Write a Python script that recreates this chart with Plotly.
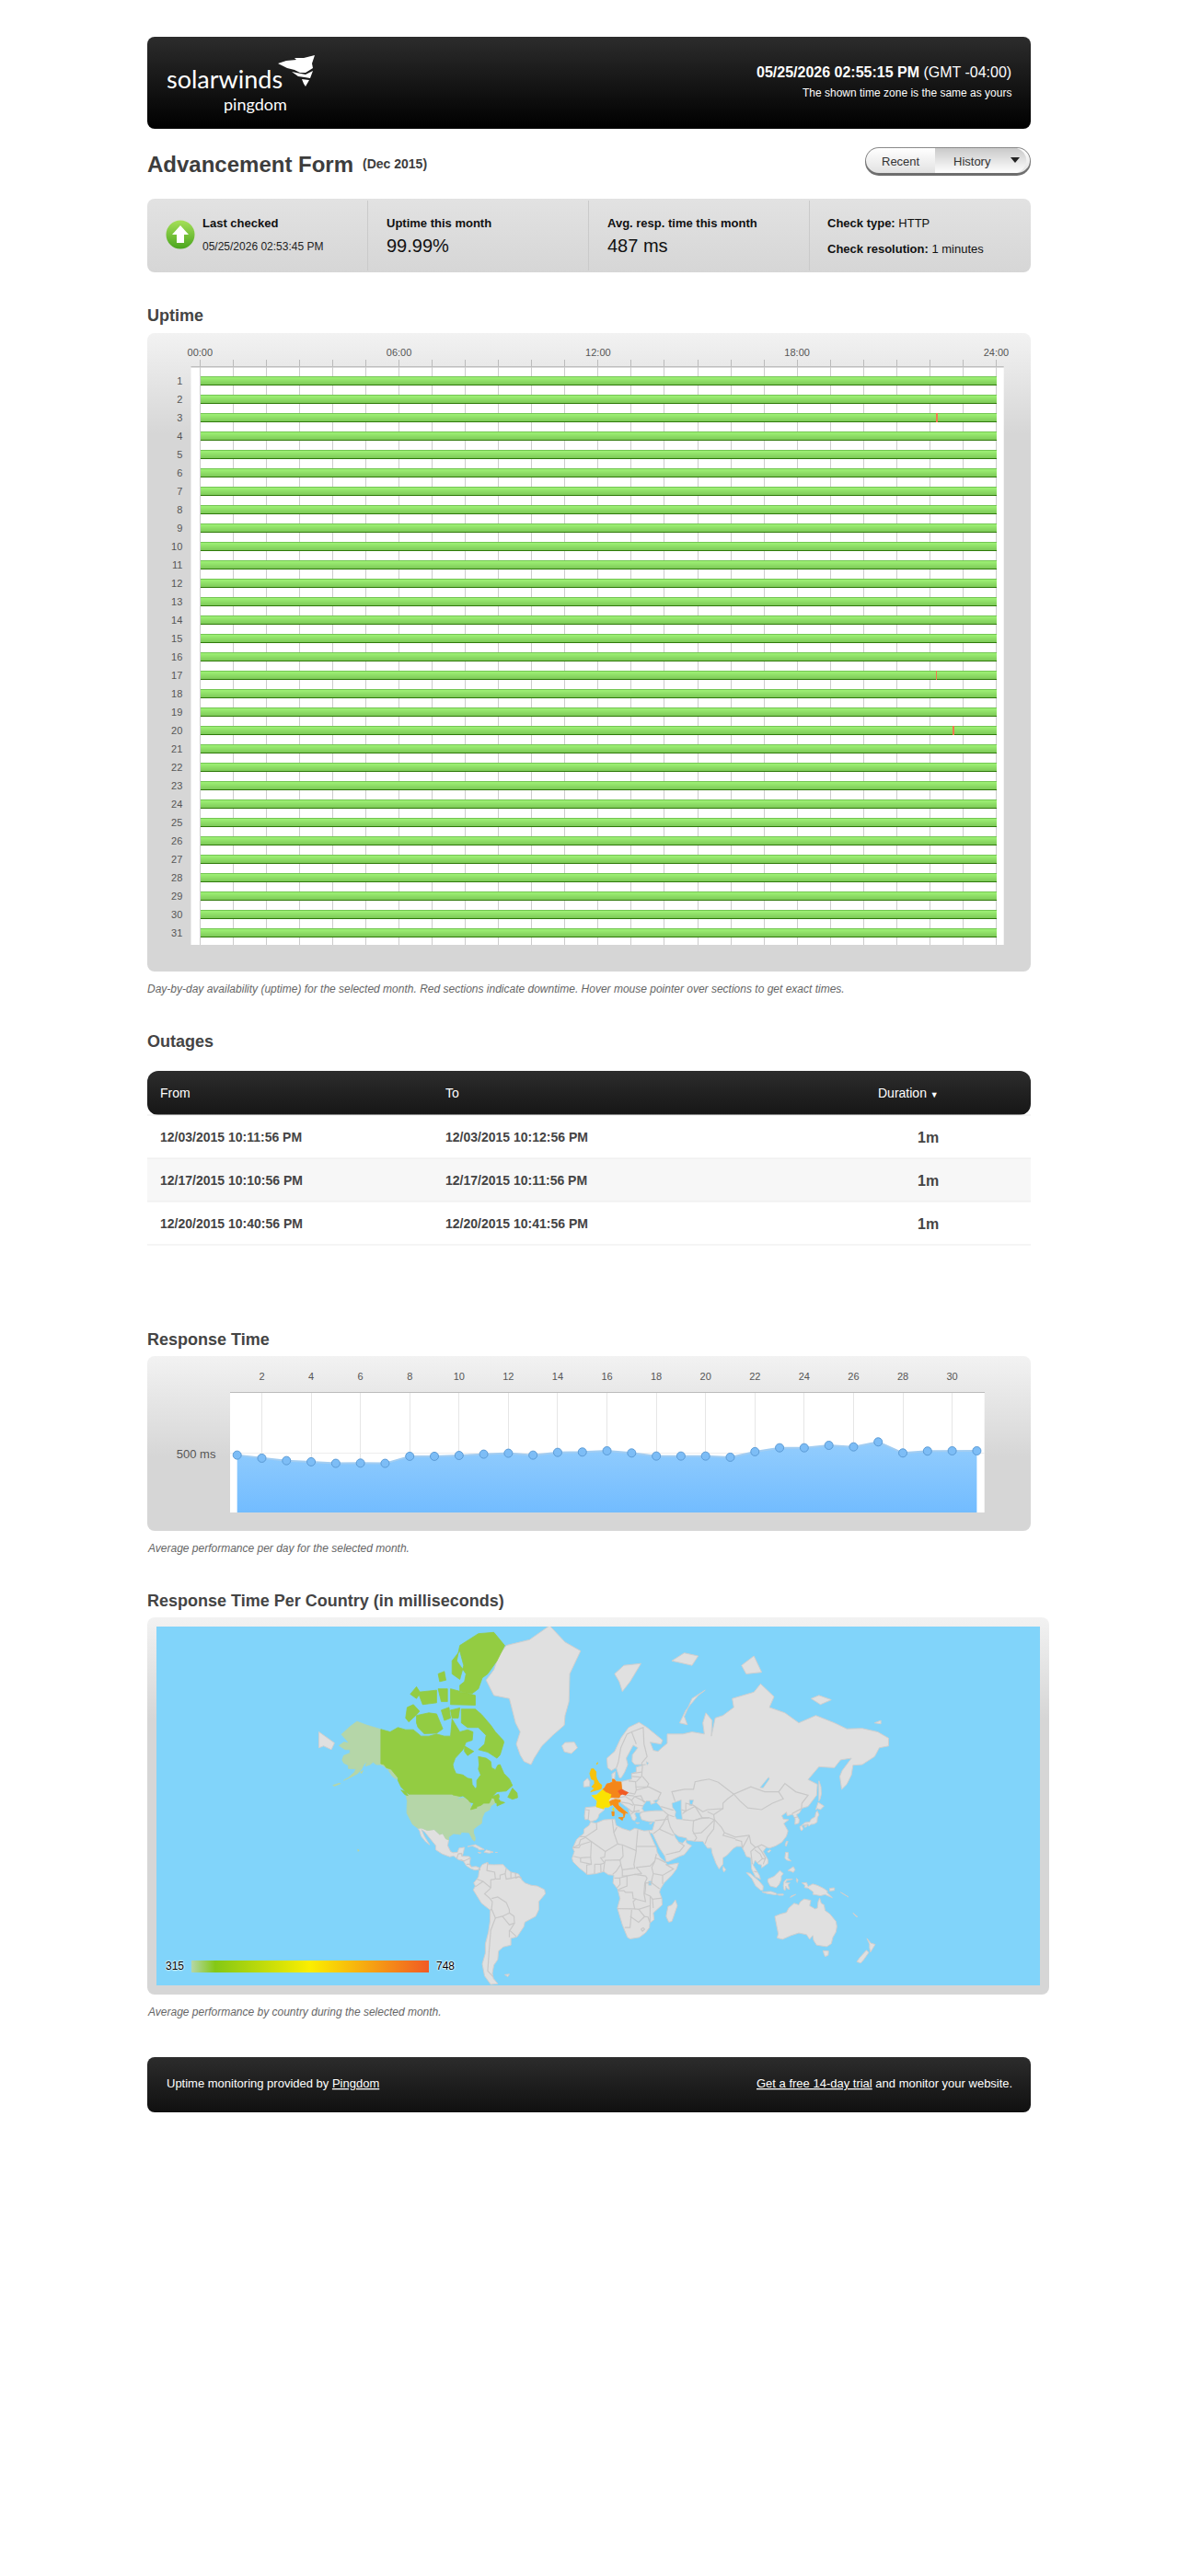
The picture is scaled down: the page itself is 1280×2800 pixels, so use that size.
import base64
import math
from datetime import datetime

import plotly.colors as pc
import plotly.graph_objects as go

# ---- data ----
outage_from = ["12/03/2015 10:11:56 PM", "12/17/2015 10:10:56 PM", "12/20/2015 10:40:56 PM"]
outage_to = ["12/03/2015 10:12:56 PM", "12/17/2015 10:11:56 PM", "12/20/2015 10:41:56 PM"]
outage_duration = ["1m", "1m", "1m"]

days = list(range(1, 32))
hour_ticks = list(range(0, 25))
hour_labels = {0: "00:00", 6: "06:00", 12: "12:00", 18: "18:00", 24: "24:00"}

resp_days = list(range(1, 32))
resp_ms = [487, 461, 440, 430, 417, 419, 417, 477, 477, 484, 495, 503, 487, 510, 513, 523,
           505, 479, 479, 479, 469, 516, 549, 549, 570, 557, 599, 505, 521, 523, 523]
resp_ticks = list(range(2, 31, 2))

legend_min = 315
legend_max = 748
legend_stops = [[0, "#b5d6a8"], [0.1, "#84c815"], [0.5, "#fbee00"], [1, "#f15a24"]]
country_ms = {"USA": 315, "CAN": 345, "FRA": 549, "GBR": 596, "ITA": 670, "DEU": 683, "NLD": 683, "BEL": 683,
              "CZE": 748}

# ---- map outlines, (lon, lat); the topojson of geo subplots can't be fetched offline ----
ALASKA = [(-141, 69.6), (-145, 70), (-150, 70.5), (-156.5, 71.3), (-161, 70.2), (-166.5, 68.4), (-163, 67),
          (-161.5, 66.3), (-165, 66.5), (-168, 65.6), (-164, 64.5), (-161, 64.5), (-161, 63.5), (-165, 62.8),
          (-166, 61.5), (-165, 60.5), (-162, 59.8), (-162, 58.7), (-158, 58.6), (-157, 58.8), (-158, 57.5),
          (-162, 55.5), (-165, 54.5), (-161, 55.5), (-156, 57), (-153.5, 58.5), (-152, 60), (-150, 61),
          (-151, 59.5), (-148, 60), (-146, 60.8), (-144, 60), (-141, 60), (-139, 59.5), (-137, 58.5), (-135, 59),
          (-136, 58), (-133.5, 56), (-131, 55), (-130, 55.5), (-132, 56.8), (-134.5, 58.5), (-137.5, 59),
          (-139, 60), (-141, 60.3)]
USA_MAIN = [(-124.7, 48.4), (-123, 49), (-95, 49), (-94.5, 48.7), (-89.5, 48), (-92, 46.7), (-88, 47.5),
            (-84.5, 46.5), (-83.5, 45.5), (-82.5, 43), (-83, 42), (-79, 42.8), (-79.2, 43.4), (-76.5, 44),
            (-74.5, 45), (-71, 45), (-69.3, 47.4), (-67.8, 47.1), (-67, 45.2), (-70, 43.7), (-70.7, 42),
            (-74, 40.7), (-75.5, 38), (-76, 35), (-78, 34), (-81, 32), (-81.2, 30), (-80, 26.8), (-80.4, 25.2),
            (-81.7, 26), (-82.8, 28), (-84, 30), (-89, 30.3), (-89.5, 29), (-94, 29.5), (-97.2, 27.5), (-97.2, 26),
            (-99, 26.5), (-101, 29.6), (-103, 29), (-106.5, 31.8), (-111, 31.3), (-114.7, 32.6), (-117.1, 32.5),
            (-120.5, 34.5), (-122.5, 37.5), (-124.2, 40.3), (-124.2, 43), (-124, 46)]
USA_SMALL = [[(-172, 52.6), (-168, 53.4), (-167, 53.3), (-171, 52.3)], [(-154.5, 57.5), (-152.5, 58), (-153.5, 57)],
             [(-156, 20.2), (-155, 19.7), (-155.7, 19)]]
CANADA_MAIN = [(-141, 69.6), (-135, 69), (-130, 70), (-125, 69.5), (-120, 69.5), (-115, 68), (-110, 68), (-105, 68.5),
               (-100, 68), (-96, 68), (-95, 71.8), (-92, 70), (-90, 69), (-85, 69.5), (-81.5, 69), (-82, 67),
               (-86, 66.5), (-88, 64.5), (-93, 62), (-94.5, 60), (-94, 58.8), (-92.5, 57), (-88, 56.5), (-85, 55.3),
               (-82.3, 55), (-82, 53), (-80, 51.3), (-79, 52), (-79, 54.5), (-76.5, 56.5), (-78, 58.5), (-77.5, 60),
               (-78, 62.5), (-73, 62), (-70, 61), (-69.5, 59), (-67, 58.3), (-65.5, 59.8), (-64, 60), (-61.5, 57),
               (-58, 55), (-56, 52.5), (-60, 50.3), (-66, 50), (-69, 48), (-65, 49), (-64.5, 48), (-65, 47), (-64, 46),
               (-61, 45.3), (-64, 44.5), (-66, 43.7), (-66, 45), (-67, 45.2), (-67.8, 47.1), (-69.3, 47.4), (-71, 45),
               (-74.5, 45), (-76.5, 44), (-79.2, 43.4), (-79, 42.8), (-83, 42), (-82.5, 43), (-81, 45), (-83.5, 45.5),
               (-84.5, 46.5), (-88, 48.3), (-89.5, 48), (-94.5, 48.7), (-95, 49), (-123, 49), (-125, 50), (-128, 52),
               (-130, 54.5), (-130, 55.5), (-132, 56.8), (-134.5, 58.5), (-137.5, 59), (-139, 60), (-141, 60.3)]
CANADA_ISLANDS = [
    [(-128, 50.7), (-125, 50), (-123.5, 48.4), (-125.5, 48.8)],
    [(-59, 47.7), (-56, 51.5), (-53, 49.5), (-52.7, 47.5), (-56, 46.8)],
    [(-61.5, 66.5), (-64, 63), (-66, 62), (-72, 63.8), (-78, 64.5), (-74, 66), (-73, 68.2), (-78, 70), (-85, 70),
     (-89, 71), (-89, 73.7), (-80, 73.7), (-76, 72.7), (-70, 70.5), (-67, 69), (-62, 67)],
    [(-117, 70), (-113, 68.6), (-105, 68.7), (-101, 69.7), (-105, 72.8), (-110, 73), (-118, 72.5), (-118, 71)],
    [(-125, 72), (-123, 71.2), (-118.5, 72.5), (-116, 73.3), (-120, 74.5), (-124, 74)],
    [(-90, 76.5), (-82, 76.3), (-78, 77), (-75.5, 78.5), (-72, 79), (-66, 80.5), (-61, 82), (-68, 83.1), (-78, 83),
     (-90, 82), (-92, 80.5), (-86, 79), (-87, 78), (-90, 77.5)],
    [(-96, 77), (-80, 76), (-80, 74.4), (-96, 74.5)],
    [(-95, 80.5), (-90, 81.5), (-87.5, 80), (-90, 78.3), (-95, 79)],
    [(-87, 65.5), (-81, 64), (-85, 62.8), (-87, 64)],
    [(-96, 73.5), (-90, 73.9), (-91, 72), (-95, 72)],
    [(-102, 73.5), (-97, 74), (-96, 72), (-100, 71.5)],
    [(-117, 76.5), (-105, 76.8), (-105, 74.8), (-114, 74.5)],
    [(-104, 77), (-98, 77), (-98, 75), (-102, 75)],
    [(-122, 76.2), (-118, 77.3), (-115.5, 76.4), (-118, 75.5)],
    [(-104, 79), (-100, 79.3), (-99, 78.2), (-103, 78)],
]
MEXICO_CA = [(-117.1, 32.5), (-114.7, 32.6), (-111, 31.3), (-106.5, 31.8), (-103, 29), (-101, 29.6), (-99, 26.5),
             (-97.2, 26), (-97.8, 22.5), (-96, 19), (-94.5, 18.2), (-91.5, 18.5), (-90.5, 21), (-87, 21.5),
             (-87.7, 18.5), (-88.5, 16), (-84, 15.9), (-83.2, 15), (-83.7, 11), (-82.5, 9.3), (-79.5, 9.6),
             (-77.3, 8.7), (-78.2, 7.5), (-80.3, 7.3), (-83, 8.3), (-85.8, 10), (-87.6, 13), (-91, 14), (-94, 16.2),
             (-96.5, 15.7), (-101.5, 17.5), (-105.5, 20), (-105.5, 22.5), (-109.3, 26.5), (-112.8, 30.5),
             (-114.8, 31.7), (-112.8, 27.8), (-109.5, 23), (-112, 24.7), (-115, 28), (-116, 31)]
GREENLAND = [(-73, 78.2), (-68, 76), (-58, 75.5), (-54, 71), (-51, 69), (-53.5, 66), (-51, 63), (-48.5, 61), (-44, 60),
             (-42, 62), (-37, 65.5), (-30, 68.2), (-22.5, 70.5), (-22, 72.5), (-19.5, 75), (-19, 79), (-12, 81.5),
             (-22, 82.3), (-32, 83.6), (-45, 82.5), (-60, 82), (-65, 81), (-68, 79.5)]
SOUTH_AMERICA = [(-77, 8.5), (-75.5, 10.8), (-72, 12.2), (-71.5, 10.8), (-68, 10.7), (-62, 10.8), (-60, 8.4), (-57, 6),
                 (-52, 4.7), (-50, 1), (-48, -1), (-44, -2.5), (-40, -3), (-35.3, -5.3), (-34.8, -8), (-39, -13),
                 (-39, -18), (-41, -22), (-48, -25.5), (-48.6, -28), (-53, -33.7), (-57, -34.5), (-57, -38), (-62, -39),
                 (-65, -41), (-65.5, -45), (-68, -47.5), (-69, -51), (-68.3, -53), (-65.5, -55), (-70, -55.3),
                 (-74, -52), (-75.5, -47), (-73.5, -42), (-73.5, -37.5), (-71.5, -31), (-70.5, -25), (-70.3, -18.3),
                 (-76, -14), (-81.3, -5.5), (-80, -3), (-81, -1), (-79, 1.5), (-78, 3), (-77.5, 7)]
AFRICA = [(-5.5, 35.8), (-2, 35.2), (3, 36.9), (10, 37.3), (11, 34), (15, 32.3), (20, 31), (23, 32.5), (29, 31),
          (32.3, 31.2), (32.5, 30), (34, 27), (35.5, 24), (37, 21), (37.5, 18.5), (39.5, 15.2), (43.2, 12), (44, 10.5),
          (51.3, 11.8), (50, 8), (47, 4), (42, -1), (39.5, -5), (39, -7), (40.5, -11), (40.7, -15), (35, -20),
          (35.5, -24), (32.7, -26), (32.5, -28.5), (30, -31.5), (26, -34), (20, -34.8), (18.3, -34), (15, -27),
          (11.8, -17), (13.5, -11), (12, -5), (9, -1), (9.5, 4), (6, 4.3), (3, 6.3), (-2, 5), (-7.5, 4.4), (-13, 8.8),
          (-16.8, 12.5), (-17.5, 14.7), (-16, 19), (-17, 21), (-14.5, 26.2), (-10, 29.5), (-9.7, 32), (-6.5, 34)]
EURASIA = [(-9, 37), (-9.5, 38.8), (-8.8, 43), (-1.8, 43.5), (-1.2, 46), (-4.7, 48.4), (-1.5, 48.7), (1.5, 50.5),
           (3.5, 51.4), (5, 53.2), (8.5, 53.8), (8.2, 56.8), (10.5, 57.7), (10, 55), (11, 54), (14, 54), (18.5, 54.7),
           (21, 55), (21, 57), (24, 57.5), (24, 59.2), (28.5, 59.8), (30, 60), (23, 60), (21.3, 61), (21.5, 63),
           (25, 65), (22, 65.7), (17.5, 62), (18.5, 60), (16.5, 57.5), (14.3, 55.5), (13, 55.5), (11, 59), (8, 58),
           (5.5, 59), (5, 62), (10, 64), (14, 67.5), (19, 70), (25.8, 71.1), (31, 70), (41, 67), (40, 66), (33, 66.5),
           (35, 64.3), (38, 64), (40.5, 65), (44, 66.2), (44, 68.5), (54, 68.5), (60, 69), (68, 68.5), (67, 71),
           (69, 73), (73, 71.5), (72.5, 68), (75, 72), (80, 72.5), (87, 74), (86, 75.5), (100, 76.5), (104.3, 77.7),
           (113, 75.8), (110, 74), (120, 73), (129, 71), (140, 72.5), (152, 71), (160, 69.7), (170, 69.8), (180, 69),
           (187, 67.5), (187, 65.5), (181, 65), (178, 62.5), (170, 60), (164, 59.8), (163, 56.5), (160, 53),
           (156.7, 51), (155.5, 56), (157, 58), (163, 62), (156, 61.5), (152, 59), (142, 59.3), (135, 54.8), (141, 53),
           (140.5, 48.5), (135, 43.5), (131, 42.7), (129.5, 40.5), (127.5, 39.5), (129.3, 37), (129, 35.2),
           (126.5, 34.5), (126.7, 37.5), (125, 39.7), (121.5, 39), (121, 40.8), (118, 39), (119, 37.3), (122.5, 37),
           (119.3, 35), (122, 31), (121, 28), (118, 24.5), (114, 22.3), (110, 21), (108, 21.6), (106, 19), (109, 14),
           (109, 11.5), (105, 8.7), (105, 10.5), (103, 11), (100.8, 13.5), (99.5, 10.5), (103.5, 4), (104.2, 1.4),
           (101, 3), (98.5, 8), (98, 15), (95, 16), (94, 18.5), (92, 22), (89, 22), (87, 21), (82.5, 16.5), (80, 15),
           (80, 11), (77.5, 8), (75.5, 11.5), (73, 18), (72.5, 21), (70, 21), (69, 22.3), (67, 25), (61.5, 25.2),
           (57, 25.7), (56.3, 27), (51, 28), (48, 30), (49.5, 27), (51.5, 24.5), (54, 24), (56, 26), (56.5, 24),
           (59.7, 22.5), (55, 17), (52, 16), (45, 12.8), (43.3, 12.7), (42.5, 16), (39, 21), (35, 28), (34.5, 29.5),
           (32.5, 30), (32.3, 31.2), (34.5, 31.5), (36, 36), (32, 36), (30, 36.5), (27.5, 37), (26.3, 39.5), (27, 40.5),
           (29, 41), (31.5, 41.2), (36, 41.5), (41.5, 41.5), (39, 44), (37, 45.3), (39, 47), (35, 46), (36.5, 45.3),
           (33.5, 44.5), (33, 46), (30.5, 46), (28.5, 44), (27.7, 42.5), (29, 41.2), (26.2, 40.6), (24, 40.7), (23, 40),
           (24, 38), (23, 36.5), (21.5, 37), (19.5, 41), (19, 42.5), (14, 45.2), (13.5, 45.7), (12.3, 45.3), (12.5, 44),
           (16, 41.8), (18.5, 40.2), (17, 40.5), (16.5, 39), (16, 38), (15.7, 40), (12.5, 41.5), (10.5, 43),
           (8.8, 44.4), (6, 43.2), (3.2, 43.2), (3.2, 41.8), (0, 39.8), (-0.7, 38), (-2, 36.8), (-5.5, 36), (-7, 37.2)]
OTHER_LAND = [
    [(-181, 69), (-175, 67.5), (-171, 66.3), (-173, 64.5), (-178, 65.5), (-181, 65)],
    [(-85, 21.9), (-80, 23.1), (-74.2, 20.2), (-77.7, 19.9), (-78, 20.7), (-82, 22.4)],
    [(-74.4, 18.5), (-72.8, 19.9), (-68.4, 18.6), (-71, 18)],
    [(-78.3, 18.4), (-76.3, 18.2), (-77, 17.8)],
    [(-67.2, 18.4), (-65.7, 18.4), (-66, 18)],
    [(-24, 65.5), (-22, 66.4), (-16, 66.5), (-14, 65), (-18, 63.4), (-22.5, 63.9)],
    [(10, 79), (16, 80), (27, 80.2), (20, 78), (15, 76.6), (13, 78)],
    [(52, 71), (56, 73.5), (64, 76), (68.5, 76.8), (60, 75.5), (55, 72.3), (57, 70.6)],
    [(47, 80.5), (55, 81.3), (64, 81), (60, 80)],
    [(95, 79), (105, 79.2), (100, 81), (92, 80)],
    [(137, 75.5), (142, 76), (150, 75.3), (143, 74.5)],
    [(178, 71), (182, 71.5), (182, 70.8)],
    [(-10, 52), (-6.2, 52.2), (-6, 54), (-7.5, 55.3), (-10, 54)],
    [(49.3, -12), (50.5, -15.5), (47, -25), (45, -25.5), (43.3, -22), (44.5, -16), (47, -15)],
    [(-61, -51.5), (-58, -51.3), (-59, -52.3)],
    [(113.5, -22), (114.5, -27), (115.7, -32), (115, -34.3), (118.5, -35), (124, -33), (129, -31.6), (134, -32.5),
     (136, -35), (138, -33), (138.5, -35.5), (140.5, -38), (144, -38.5), (147, -38.8), (150, -37.3), (151, -34),
     (153, -31), (153.6, -28), (153, -25), (149, -20.5), (146, -18.5), (145.3, -15), (143.5, -14), (142.5, -10.8),
     (141.5, -13), (141, -17), (139.5, -17.5), (136, -15.5), (136.8, -12.2), (132.5, -11.3), (130, -13), (129, -15),
     (126, -14), (122.5, -17), (121, -19.7), (117, -20.7)],
    [(144.7, -40.8), (148.2, -41), (148, -43), (146, -43.6), (145.3, -42.5)],
    [(173, -34.5), (175.5, -37), (178.4, -37.7), (177, -39.7), (175.3, -41.5), (174.7, -39.5), (174.7, -37.5)],
    [(172.7, -40.6), (174.2, -41.7), (171, -45), (169, -46.6), (166.5, -46), (168.5, -44)],
    [(131, -1), (134, -0.8), (135, -3.3), (138, -1.7), (141, -2.6), (145, -4.5), (147.8, -6.5), (147, -7),
     (150.7, -10.5), (146, -8.5), (143, -9.2), (138, -8.3), (138.5, -7), (135, -4.3), (132.7, -4), (133, -2.5)],
    [(109, 1.5), (111.5, 2.5), (113, 3.2), (116.8, 7), (119, 5), (117.7, 3.5), (117.6, 1), (116.3, -2), (114.5, -4),
     (110.5, -3), (109, -0.2)],
    [(95.2, 5.6), (97.5, 5.2), (103.5, 0), (106, -3), (105.8, -5.8), (104.5, -5.8), (101, -2.8), (98.7, 1.7)],
    [(105.2, -6.8), (108.5, -6.6), (111, -6.5), (114.5, -7.7), (114.3, -8.7), (108.5, -7.8)],
    [(115, -8.3), (119, -8.2), (119, -8.9), (116, -8.9)],
    [(119.5, 0), (120.8, 1.3), (125, 1.5), (121, 0.5), (120.5, -1), (123.3, -1), (122, -2), (123, -5), (121.6, -4.7),
     (120.5, -3), (120.4, -5.5), (119.5, -5.5), (119, -3)],
    [(127.5, 2), (128.5, 1), (128, -0.8), (127.5, 0.5)],
    [(124, -9.5), (127, -8.4), (123.5, -10.3)],
    [(120.5, 18.5), (122.2, 18.3), (122, 15), (124, 13), (121, 13.7), (120, 15)],
    [(122, 7), (125.5, 9.5), (126.5, 7.5), (125.5, 5.8), (124, 6.5)],
    [(120.2, 23), (121, 25), (122, 25), (120.8, 22)],
    [(108.7, 19), (110.5, 20), (111, 19.5), (109.5, 18.2)],
    [(79.8, 8), (80.2, 9.7), (81.8, 7.5), (80.6, 6)],
    [(130.9, 34), (133, 35.5), (136, 35.8), (137, 37.3), (139.5, 38.5), (140, 40.5), (141, 41.4), (142, 39.5), (141, 38),
     (140.8, 35.7), (138.8, 34.7), (136.8, 34.5), (135.5, 33.6), (135, 34.6), (132.5, 34.2)],
    [(129.7, 33.4), (131, 33.9), (131.8, 32), (130.7, 31), (130, 32)],
    [(132.5, 33.7), (134.5, 34.2), (134, 33.3), (133, 32.9)],
    [(140, 42), (141.5, 45.4), (145.3, 43.7), (143, 42), (141, 42.5)],
    [(142, 54.3), (143.3, 52), (143.5, 49), (142.8, 47), (142, 46), (142, 50)],
    [(164, -20), (167, -22.3), (166, -22.2)],
    [(156, -7), (160, -9.5), (161, -10), (157, -8)],
    [(149, -4.5), (152, -4.2), (152, -5.8), (149, -6.2)],
    [(32.4, 34.9), (34.5, 35.6), (33.5, 34.7)],
    [(23.6, 35.5), (26.2, 35.3), (24.5, 34.9)],
]
WATER = [
    [(47, 45), (53, 46.5), (53, 42), (53.8, 37), (50, 37.3), (49, 39), (49.5, 41), (47.5, 43)],
    [(104, 51.7), (109.5, 55.7), (110, 55), (106, 51.6)],
    [(30.5, 61), (32, 60.5), (31, 59.9)],
    [(31.8, 0), (34, 0.2), (33.7, -2.5), (32, -2.5)],
    [(-87.8, 42), (-86.5, 42), (-85.5, 45.5), (-88, 45)],
    [(58.3, 46.5), (61, 46.5), (60, 44), (58.5, 44)],
]
BORDERS = [
    # africa
    [(-1.7, 35), (-1.5, 32), (-8.7, 27.7), (-13, 27.7)],
    [(-8.7, 27.3), (-5, 25), (1, 21), (4, 19), (12, 23.5), (9.5, 30), (8.5, 37)], [(9.5, 30), (11.5, 33)],
    [(-8.7, 27.3), (-12, 26), (-13, 23), (-17, 21.3)], [(-5, 25), (-12, 23), (-13, 21.3), (-17, 21.3)],
    [(-5, 25), (-5.5, 15.5), (-12, 15), (-16.5, 16)], [(12, 23.5), (15, 23), (24, 19.5), (24, 22), (25, 31.5)],
    [(24, 22), (37, 22)], [(15, 23), (15.5, 16), (13.5, 13.7)], [(4, 19), (3.5, 15.5), (1, 15), (3.5, 11.8)],
    [(-5.5, 15.5), (-5, 11), (-12, 12.5), (-12, 15)], [(3.5, 11.8), (2.8, 6.3)],
    [(3.5, 11.8), (4, 13.5), (13.5, 13.7), (14, 11), (11, 6.5), (8.7, 4.5)], [(-3, 5), (-2.8, 11), (1, 11), (1.2, 6)],
    [(-8, 4.5), (-8, 10.5), (-5, 11)], [(3.5, 11.8), (1, 11)], [(24, 19.5), (22.5, 11), (23, 8.5), (15, 7.5), (14, 11)],
    [(24, 9), (33, 10), (36, 13), (37, 17.5)], [(36, 15), (38, 14.5), (43, 12)],
    [(36, 13), (34, 9), (35, 5), (41, 3.9), (48, 8), (43, 11)], [(41, 3.9), (41, -1.7)],
    [(35, 5), (34, 1), (34, -1), (39, -4.7)], [(34, -1), (30, -1), (30, -4.5), (29.5, -8), (33, -9.5), (34.5, -11.5), (40.5, -10.7)],
    [(12.5, -6), (13, -5), (18, -3), (18, 3.5), (23, 4.5), (30, 3.5), (31, 2), (29.5, -1), (29, -8), (30, -13), (22, -11),
     (21.5, -7), (17, -7), (16, -6), (12.5, -6)],
    [(15, 7.5), (15, 3.5), (18, 3.5)], [(23, 4.5), (27.5, 5), (24, 9)], [(9.8, 2.2), (13.3, 2.2), (13.5, -2), (11.5, -4.2)],
    [(13.3, 2.2), (18, 3.5)], [(11.8, -17.3), (23, -17.5), (22, -13), (24, -11)], [(21, -18), (20, -28.5), (16.5, -28.5)],
    [(20, -22), (25.5, -25.5), (29.4, -22.2), (25.5, -17.8), (23, -17.5)], [(25.5, -17.8), (33, -15.5), (33, -9.5)],
    [(33, -15.5), (32.8, -25.8), (31.5, -22.3), (29.4, -22.2)], [(34.5, -11.5), (35, -17)],
    [(27, -29.5), (28.5, -28.7), (29.4, -29.5), (28, -30.6), (27, -29.5)],
    # asia
    [(35, 29.5), (39, 32), (46.5, 29), (48, 28.5)], [(51.5, 24.5), (55, 22.5), (52, 19), (43, 17)],
    [(39, 32), (41, 34.5), (42.5, 37), (44.5, 37.3), (46, 33), (48, 30)], [(36, 36.5), (42.5, 37)],
    [(44.5, 37.3), (44.5, 39.5), (48.5, 38.5)], [(54, 37), (61, 36.5), (60.5, 31), (63, 27), (61.5, 25)],
    [(61, 36.5), (65, 37.5), (71, 38), (74.5, 37), (71, 34), (66, 30), (60.5, 29.5)], [(74.5, 37), (74, 32), (70, 27.5), (68.5, 23.7)],
    [(74.5, 37), (79, 33), (81, 30), (88, 27.5), (97, 28.5), (94, 24), (92.5, 21)], [(81, 30), (80, 28.5), (88, 26.5)],
    [(88, 26), (92, 25), (92.5, 21)], [(41.5, 41.5), (44.5, 39.5), (42.5, 37)], [(40, 43.5), (48, 41.7)],
    [(49, 46), (47, 50), (55, 51), (61, 51), (62, 54), (71, 55), (77, 53.8), (87, 49)],
    [(53, 42), (56, 41.3), (56, 45), (61, 44), (67, 41), (70, 42), (80, 42.5), (80, 45), (83, 47), (87, 49)],
    [(53.8, 40), (56, 41.3), (62, 43.5), (66.5, 38), (61, 36.5)], [(66.5, 38), (71, 38)], [(74.5, 37), (74, 39.5), (70, 41)],
    [(74, 39.5), (80, 42.5)], [(87, 49), (98, 52), (107, 50), (116, 50), (119, 47), (112, 45), (105, 42), (96, 42.8), (91, 46), (87, 49)],
    [(116, 50), (120, 53.3), (127, 50), (135, 48.5), (131, 45), (130.7, 42.5)], [(124.5, 40), (130.7, 42.5)], [(126, 38), (128.5, 38.5)],
    [(97, 28.5), (98, 24), (101, 21.5), (105, 23), (108, 21.6)], [(101, 21.5), (98, 19), (98.5, 15), (99, 11)],
    [(102.5, 22), (105, 19), (107.5, 15), (106, 11)], [(102.5, 12), (105.5, 14.5), (107.5, 14.5)],
    [(100.5, 20), (104, 17.5), (105.5, 14.5)], [(100, 6.5), (102, 6)],
    # europe
    [(-8.8, 42), (-6.5, 41.8), (-7, 37.2)], [(-1.8, 43.4), (3, 42.4)],
    [(14.7, 51), (18.8, 49.6), (23, 49), (24, 50.7), (23.5, 54), (19, 54.3)], [(21, 57), (27.5, 57.5)], [(21, 56), (26.5, 55.7)],
    [(28, 59.5), (27.5, 56), (24, 54)], [(23.5, 52), (31, 52), (32, 53.2), (28, 56)], [(24, 50.7), (32, 52), (40, 49.5), (38, 47)],
    [(23, 48), (30, 45.5)], [(21, 46.3), (23, 48), (27, 48.3), (29, 45.3)], [(21, 46.3), (22.5, 44.3), (28.5, 43.8)],
    [(23, 44), (22.5, 41.2), (26, 41.5)], [(17, 48.6), (22.5, 48.2)], [(17, 48), (21, 46.3)], [(9.6, 47.4), (13, 47.5), (17, 48)],
    [(14, 45.5), (19, 45), (22, 44)], [(19, 42.5), (21, 41), (26, 41.5)], [(20.5, 39.7), (23, 41.2)], [(21, 69), (28.5, 70), (29, 66), (31, 62.5), (27.5, 60.5)],
    [(11.2, 59), (12.5, 61), (14, 65), (18, 68.5), (21, 69), (24, 66)], [(28, 59.5), (27.5, 60.5)],
    # americas
    [(-72, 12), (-72.5, 7), (-67.5, 6), (-67, 1.5)], [(-79, 1.5), (-75, 0), (-70, -4.2), (-70, 1), (-67, 1.5)],
    [(-60, 8.4), (-60.7, 5), (-64, 4), (-64, 1.5), (-67, 1.5)], [(-60.7, 5), (-60, 1.5), (-57, 2), (-57, 6)], [(-54, 2), (-54, 5.7)],
    [(-52, 3), (-54, 2)], [(-57, 2), (-52, 3), (-50, 2)], [(-80, -3.5), (-75, 0)],
    [(-70, -4.2), (-74, -8), (-70.5, -11), (-69, -13), (-69.5, -17.5), (-70.3, -18.3)],
    [(-69.5, -11), (-65.5, -10), (-60, -13.5), (-58, -18), (-58, -20), (-62.5, -22), (-67, -23), (-69.5, -17.5)],
    [(-67, -23), (-70, -30), (-71, -40), (-72, -50), (-68.5, -52.3)], [(-62.5, -22), (-58, -27), (-54.7, -26), (-55, -22), (-58, -20)],
    [(-58, -34), (-58, -30), (-53.5, -33.5)], [(-54.7, -26), (-57.5, -30)], [(-92, 14.5), (-91, 17.5), (-89, 17.8), (-88.5, 16)],
    [(-89.5, 14), (-87.5, 13), (-83, 15)], [(-85.7, 11), (-83.7, 11), (-82.7, 9.6)], [(-77.3, 8.7), (-77, 7)],
]
COUNTRY_SHAPES = {
    "USA": [ALASKA, USA_MAIN] + USA_SMALL,
    "CAN": [CANADA_MAIN] + CANADA_ISLANDS,
    "FRA": [[(-4.7, 48.4), (-1.5, 48.7), (1.5, 50.5), (2.5, 51.1), (4.2, 50), (6, 49.5), (8.2, 49), (7.5, 47.5), (6, 46.3),
             (7.5, 44), (6, 43.2), (3.2, 43.2), (3, 42.4), (-1.8, 43.4), (-1.2, 46)],
            [(8.6, 42), (9.4, 43), (9.5, 41.5)]],
    "GBR": [[(-5.5, 50), (1.3, 51.2), (1.7, 52.7), (0, 53.5), (-1.5, 55), (-2, 56), (-2, 57.6), (-3.5, 58.6), (-5, 58.6),
             (-6, 57), (-5, 55), (-3, 54.5), (-3, 53.3), (-4.8, 52), (-3, 51.4)],
            [(-1.5, 60), (-1, 60.7), (-1.5, 60.5)]],
    "ITA": [[(7.5, 44), (6.7, 45.8), (8, 46.3), (10.5, 46.8), (13.7, 46.5), (13.7, 45.7), (12.3, 45.3), (12.5, 44), (16, 41.8),
             (18.5, 40.2), (17, 40.5), (16.5, 39), (16, 38), (15.7, 40), (12.5, 41.5), (10.5, 43), (8.8, 44.4)],
            [(12.5, 38), (15.6, 38.2), (15, 36.7)], [(8.2, 41), (9.7, 41), (9.6, 39), (8.5, 39)]],
    "DEU": [[(6, 51), (7, 53.5), (8.5, 53.8), (8.7, 55), (10, 54.8), (11, 54), (14.2, 53.9), (14.7, 51), (12.2, 50.3),
             (13.8, 48.7), (13, 47.5), (7.6, 47.6), (8.2, 49), (6.2, 49.5)]],
    "NLD": [[(3.4, 51.4), (5, 53.2), (7, 53.4), (6, 51), (6, 50.8)]],
    "BEL": [[(2.5, 51.1), (3.4, 51.4), (6, 51), (6.2, 49.6), (4.2, 50)]],
    "CZE": [[(12.2, 50.3), (14.7, 51), (16.5, 50.3), (18.8, 49.6), (17, 48.6), (15, 49), (13.8, 48.7)]],
}

# figure sits inside the 8px body margin of the page
W, H = 1264, 2784


def X(px):
    return (px - 8) / W


def Y(py):
    return 1 - (py - 8) / H


def merc(lat):
    return math.log(math.tan(math.pi / 4 + math.radians(lat) / 2))


def flatten(polys, close=True):
    xs, ys = [], []
    for p in polys:
        pts = p + p[:1] if close else p
        xs += [q[0] for q in pts] + [None]
        ys += [merc(q[1]) for q in pts] + [None]
    return xs, ys


def rounded_box(x0, y0, x1, y1, stops, r=8, grad_h=None):
    # gradient box as an svg picture, plotly shapes can't do gradients
    w, h = x1 - x0, y1 - y0
    grad_h = grad_h or h
    st = "".join(f'<stop offset="{o}" stop-color="{c}"/>' for o, c in stops)
    svg = (f'<svg xmlns="http://www.w3.org/2000/svg" width="{w}" height="{h}" viewBox="0 0 {w} {h}">'
           f'<defs><linearGradient id="g" gradientUnits="userSpaceOnUse" x1="0" y1="0" x2="0" y2="{grad_h}">{st}'
           f'</linearGradient></defs><rect width="{w}" height="{h}" rx="{r}" fill="url(#g)"/></svg>')
    return svg_image(svg, x0, y0, x1, y1)


def svg_image(svg, x0, y0, x1, y1, layer="below"):
    src = "data:image/svg+xml;base64," + base64.b64encode(svg.encode()).decode()
    return dict(source=src, xref="paper", yref="paper", x=X(x0), y=Y(y0), sizex=(x1 - x0) / W,
                sizey=(y1 - y0) / H, sizing="stretch", xanchor="left", yanchor="top", layer=layer)


def txt(x, y, s, size=12, color="#444444", anchor="left", shadow=None, family="Liberation Sans, Arial, sans-serif"):
    font = dict(family=family, size=size, color=color)
    if shadow:
        font["shadow"] = shadow
    return dict(text=s, x=X(x), y=Y(y), xref="paper", yref="paper", showarrow=False, xanchor=anchor,
                yanchor="middle", font=font, borderpad=0, borderwidth=0)


def rect(x0, y0, x1, y1, color):
    return dict(type="rect", xref="paper", yref="paper", x0=X(x0), x1=X(x1), y0=Y(y0), y1=Y(y1),
                fillcolor=color, line_width=0, layer="below")


images, shapes, notes = [], [], []

# ---- page chrome ----
dark = [(0, "#2c2c2c"), (1, "#000000")]
images.append(rounded_box(160, 40, 1120, 140, dark))
flame = ('<svg xmlns="http://www.w3.org/2000/svg" width="42" height="34" viewBox="0 0 42 34"><g fill="#fff">'
         '<path d="M0 9 L9 6 L20 5 L18 3 L28 3 L40 0 L37 9 L38 14 L30 19 L24 19 L18 16 L10 14 Z"/>'
         '<path d="M15 18 L30 21 L38 17 L35 25 L29 24 L22 23 Z"/>'
         '<path d="M26 26 L34 27 L30 34 L28 31 Z"/></g></svg>')
images.append(svg_image(flame, 302, 60, 344, 94))

images.append(rounded_box(940, 160, 1120, 191, [(0, "#8a8a8a"), (1, "#6c6c6c")], r=15))
images.append(rounded_box(941, 161, 1119, 188, [(0, "#ffffff"), (1, "#e2e2e2")], r=14))
button_right = ('<svg xmlns="http://www.w3.org/2000/svg" width="103" height="27" viewBox="0 0 103 27"><defs>'
                '<linearGradient id="h" x1="0" y1="0" x2="0" y2="1"><stop offset="0" stop-color="#c9c9c9"/>'
                '<stop offset="1" stop-color="#ffffff"/></linearGradient></defs>'
                '<path d="M0 0 H89 A14 14 0 0 1 89 27 H0 Z" fill="url(#h)"/>'
                '<path d="M82 10 H92 L87 16 Z" fill="#222"/></svg>')
images.append(svg_image(button_right, 1016, 161, 1119, 188))

images.append(rounded_box(160, 216, 1120, 296, [(0, "#e2e2e2"), (1, "#d6d6d6")]))
for dx in [399, 639, 879]:
    shapes.append(rect(dx, 218, dx + 1, 294, "#cacaca"))
up_icon = ('<svg xmlns="http://www.w3.org/2000/svg" width="32" height="32" viewBox="0 0 32 32"><defs>'
           '<linearGradient id="a" x1="0" y1="0" x2="0" y2="1"><stop offset="0" stop-color="#a6e05a"/>'
           '<stop offset="1" stop-color="#4aa51d"/></linearGradient></defs>'
           '<circle cx="16" cy="16" r="15.5" fill="url(#a)"/>'
           '<path d="M16 6 L25 16 H20 V25 H12 V16 H7 Z" fill="#fff"/></svg>')
images.append(svg_image(up_icon, 180, 239, 212, 271))

panel_grad = [(0, "#f2f2f2"), (1, "#d6d6d6")]
images.append(rounded_box(160, 362, 1120, 1056, panel_grad, grad_h=110))
images.append(rounded_box(160, 1474, 1120, 1664, panel_grad, grad_h=110))
images.append(rounded_box(160, 1758, 1140, 2168, panel_grad, grad_h=110))
shapes.append(rect(207.5, 399, 1090.7, 1027, "#ffffff"))
shapes.append(rect(207.5, 398, 1090.7, 399.5, "#bdbdbd"))
shapes.append(rect(250, 1514, 1069.7, 1644, "#ffffff"))
shapes.append(rect(170, 1768, 1130, 2158, "#81d4fa"))

# table and footer
images.append(rounded_box(160, 1164, 1120, 1212, [(0, "#2c2c2c"), (1, "#161616")], r=12))
shapes.append(rect(160, 1259, 1120, 1306, "#f7f7f7"))
for ly in [1212, 1259, 1306, 1353]:
    shapes.append(rect(160, ly - 0.5, 1120, ly + 0.5, "#ececec"))
images.append(rounded_box(160, 2236, 1120, 2296, [(0, "#2c2c2c"), (1, "#101010")]))

# ---- text ----
logo_font = "Lato, Liberation Sans, sans-serif"
notes += [
    txt(181, 85, "solarwinds", 27, "#ffffff", family=logo_font),
    txt(312, 113, "pingdom", 18, "#ffffff", "right", family=logo_font),
    txt(1099, 78, "<b>05/25/2026 02:55:15 PM</b> (GMT -04:00)", 16, "#ffffff", "right"),
    txt(1099, 101, "The shown time zone is the same as yours", 12, "#ffffff", "right"),
    txt(160, 178, "<b>Advancement Form</b>", 24, "#3d3d3d"),
    txt(394, 178, "<b>(Dec 2015)</b>", 14, "#3d3d3d"),
    txt(979, 175, "Recent", 13, "#333333", "center"),
    txt(1056, 175, "History", 13, "#333333", "center"),
    txt(220, 243, "<b>Last checked</b>", 13, "#111111"),
    txt(220, 268, "05/25/2026 02:53:45 PM", 12, "#222222"),
    txt(420, 243, "<b>Uptime this month</b>", 13, "#111111"),
    txt(420, 267, "99.99%", 20, "#111111"),
    txt(660, 243, "<b>Avg. resp. time this month</b>", 13, "#111111"),
    txt(660, 267, "487 ms", 20, "#111111"),
    txt(899, 242, "<b>Check type:</b> HTTP", 13, "#111111"),
    txt(899, 270, "<b>Check resolution:</b> 1 minutes", 13, "#111111"),
    txt(160, 343, "<b>Uptime</b>", 18, "#444444"),
    txt(160, 1075, "<i>Day-by-day availability (uptime) for the selected month. Red sections indicate downtime. "
                   "Hover mouse pointer over sections to get exact times.</i>", 12, "#666666"),
    txt(160, 1132, "<b>Outages</b>", 18, "#444444"),
    txt(174, 1188, "From", 14, "#ffffff"),
    txt(484, 1188, "To", 14, "#ffffff"),
    txt(954, 1188, "Duration <span style=\"font-size:9px\">▼</span>", 14, "#ffffff"),
    txt(160, 1456, "<b>Response Time</b>", 18, "#444444"),
    txt(160, 1683, "<i>Average performance per day for the selected month.</i>", 12, "#666666"),
    txt(160, 1740, "<b>Response Time Per Country (in milliseconds)</b>", 18, "#444444"),
    txt(160, 2187, "<i>Average performance by country during the selected month.</i>", 12, "#666666"),
    txt(181, 2264, "Uptime monitoring provided by <u>Pingdom</u>", 13, "#ffffff"),
    txt(1100, 2264, "<u>Get a free 14-day trial</u> and monitor your website.", 13, "#ffffff", "right"),
]
row_y = [1236, 1283, 1330]
for yy, a, b, c in zip(row_y, outage_from, outage_to, outage_duration):
    notes.append(txt(174, yy, f"<b>{a}</b>", 14))
    notes.append(txt(484, yy, f"<b>{b}</b>", 14))
    notes.append(txt(1008, yy, f"<b>{c}</b>", 16, "#444444", "center"))

fig = go.Figure()

# ---- uptime bars: whole days, then the outages on top ----
FMT = "%m/%d/%Y %I:%M:%S %p"
down_day, down_start, down_len = [], [], []
for a, b in zip(outage_from, outage_to):
    t0, t1 = datetime.strptime(a, FMT), datetime.strptime(b, FMT)
    h0 = t0.hour + t0.minute / 60 + t0.second / 3600
    h1 = t1.hour + t1.minute / 60 + t1.second / 3600
    down_day.append(t0.day)
    down_start.append(h0)
    down_len.append(h1 - h0)

# solid bar first, then one overlaid bar trace per pixel row for the gradient + dark bottom edge
fig.add_trace(go.Bar(
    y=days, x=[24] * len(days), base=[0] * len(days), orientation="h", width=0.48, offset=-0.24,
    marker=dict(color="#8ee067", line_width=0), xaxis="x", yaxis="y", showlegend=False, hoverinfo="skip"))
bar_rows = ["#74c653", "#9cee73", "#98ea70", "#94e56c", "#90e068", "#8cdb65", "#88d661", "#84d15e", "#7fcb5a", "#2f7a0a"]
for i, c in enumerate(bar_rows):
    fig.add_trace(go.Bar(
        y=days, x=[24] * len(days), base=[0] * len(days), orientation="h", width=0.04, offset=-0.245 + i * 0.05,
        marker=dict(color=c, line_width=0), xaxis="x", yaxis="y", showlegend=False, hoverinfo="skip"))
fig.add_trace(go.Bar(
    y=down_day, x=down_len, base=down_start, orientation="h", width=0.49, offset=-0.245,
    marker=dict(color="#f4774f", line_width=0), xaxis="x", yaxis="y", showlegend=False, hoverinfo="skip"))

# ---- response time ----
fig.add_trace(go.Scatter(
    x=resp_days, y=resp_ms, mode="lines+markers", fill="tozeroy",
    fillgradient=dict(type="vertical", colorscale=[[0, "#72bcff"], [1, "#93cdfd"]]),
    line=dict(color="#a2cdf2", width=2),
    marker=dict(size=9, color="#7dbdf6", line=dict(color="#5b9bd6", width=1)),
    xaxis="x2", yaxis="y2", showlegend=False, hoverinfo="skip"))

# ---- world map ----
land_x, land_y = flatten([EURASIA, AFRICA, SOUTH_AMERICA, GREENLAND, MEXICO_CA] + OTHER_LAND)
fig.add_trace(go.Scatter(x=land_x, y=land_y, mode="lines", fill="toself", fillcolor="#e0e0e0",
                         line=dict(color="#cfcfcf", width=1), xaxis="x3", yaxis="y3",
                         showlegend=False, hoverinfo="skip"))
water_x, water_y = flatten(WATER)
fig.add_trace(go.Scatter(x=water_x, y=water_y, mode="lines", fill="toself", fillcolor="#81d4fa",
                         line=dict(color="#cfcfcf", width=0.8), xaxis="x3", yaxis="y3",
                         showlegend=False, hoverinfo="skip"))
border_x, border_y = flatten(BORDERS, close=False)
fig.add_trace(go.Scatter(x=border_x, y=border_y, mode="lines", line=dict(color="#c8c8c8", width=1.2),
                         xaxis="x3", yaxis="y3", showlegend=False, hoverinfo="skip"))
for code, value in country_ms.items():
    col = pc.sample_colorscale(legend_stops, (value - legend_min) / (legend_max - legend_min))[0]
    cx, cy = flatten(COUNTRY_SHAPES[code])
    fig.add_trace(go.Scatter(x=cx, y=cy, mode="lines", fill="toself", fillcolor=col, line=dict(color=col, width=0.8),
                             xaxis="x3", yaxis="y3", showlegend=False, hoverinfo="skip"))

legend_svg = ('<svg xmlns="http://www.w3.org/2000/svg" width="258" height="13" viewBox="0 0 258 13"><defs>'
              '<linearGradient id="l" x1="0" y1="0" x2="1" y2="0">'
              + "".join(f'<stop offset="{o}" stop-color="{c}"/>' for o, c in legend_stops)
              + '</linearGradient></defs><rect width="258" height="13" fill="url(#l)"/></svg>')
images.append(svg_image(legend_svg, 208, 2131, 466, 2144, layer="above"))
halo = "0 0 2px #fff, 0 0 2px #fff, 0 0 2px #fff"
notes.append(txt(200, 2137, str(legend_min), 12, "#000000", "right", halo))
notes.append(txt(474, 2137, str(legend_max), 12, "#000000", "left", halo))

tick_font = dict(family="Liberation Sans, Arial, sans-serif", size=11, color="#555555")
clear = "rgba(0,0,0,0)"
fig.update_layout(
    width=W, height=H, autosize=False, margin=dict(l=0, r=0, t=0, b=0, pad=0, autoexpand=False),
    paper_bgcolor="#ffffff", plot_bgcolor=clear, barmode="overlay", bargap=0,
    images=images, shapes=shapes, annotations=notes,
    xaxis=dict(domain=[X(207.5), X(1090.7)], range=[-0.272, 24.23], side="top", anchor="y", automargin=False,
               tickvals=hour_ticks, ticktext=[hour_labels.get(h, "") for h in hour_ticks],
               ticks="outside", ticklen=7, tickcolor="#bbbbbb", tickwidth=1,
               showgrid=True, gridcolor="#cccccc", gridwidth=1, zeroline=False, tickfont=tick_font),
    # clear ticks only push the labels away from the plot
    yaxis=dict(domain=[Y(1027), Y(399)], range=[31.65, 0.25], anchor="x", automargin=False,
               tickvals=days, ticktext=[str(d) for d in days], showgrid=False, zeroline=False, tickfont=tick_font,
               ticks="outside", ticklen=6, tickcolor=clear),
    xaxis2=dict(domain=[X(250), X(1069.7)], range=[0.713, 31.31], side="top", anchor="y2", automargin=False,
                tickvals=resp_ticks, ticktext=[str(t) for t in resp_ticks], showgrid=True, gridcolor="#e6e6e6",
                zeroline=False, showline=True, linecolor="#bbbbbb", linewidth=1, ticks="outside", ticklen=9,
                tickcolor=clear, tickfont=tick_font),
    yaxis2=dict(domain=[Y(1644), Y(1514)], range=[0, 1015], anchor="x2", automargin=False, tickvals=[500],
                ticktext=["500 ms"], showgrid=True, gridcolor="#eeeeee", zeroline=False, ticks="outside", ticklen=12,
                tickcolor=clear, tickfont=dict(family="Liberation Sans, Arial, sans-serif", size=13, color="#555555")),
    xaxis3=dict(domain=[X(170), X(1130)], range=[-286, 284.8], visible=False, anchor="y3", automargin=False),
    yaxis3=dict(domain=[Y(2158), Y(1768)], range=[-1.1726, 2.874], visible=False, anchor="x3", automargin=False),
)

fig.write_html("out.html")
